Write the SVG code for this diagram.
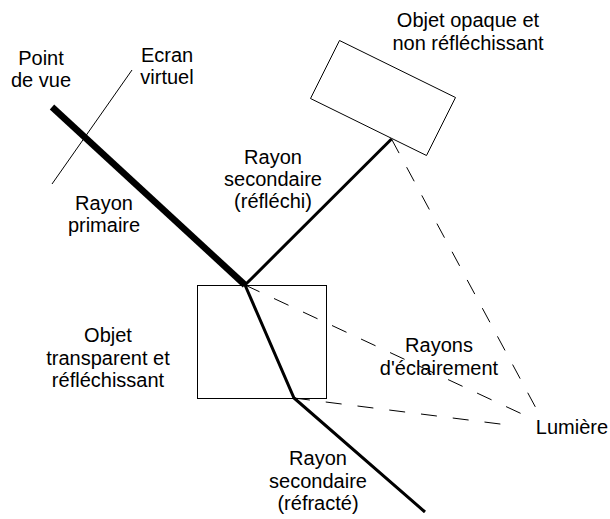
<svg xmlns="http://www.w3.org/2000/svg" width="610" height="519" viewBox="0 0 610 519">
<style>
text{font-family:"Liberation Sans",Arial,sans-serif;font-size:20px;fill:#000;text-anchor:middle}
.shape{fill:none;stroke:#000;stroke-width:1}
.dash{fill:none;stroke:#000;stroke-width:1;stroke-dasharray:16 16}
.ray{fill:none;stroke:#000;stroke-width:3;stroke-linejoin:miter}
</style>
<rect width="610" height="519" fill="#fff"/>
<g id="ecran-virtuel">
<line class="shape" x1="132" y1="70" x2="52" y2="184"/>
<text x="167" y="62">Ecran</text>
<text x="167" y="84">virtuel</text>
</g>
<g id="point-de-vue">
<text x="41" y="65">Point</text>
<text x="41" y="87">de vue</text>
</g>
<g id="objet-opaque">
<polygon class="shape" points="339.5,40.5 455.5,97.5 426.5,155.5 310.5,98.5"/>
<text x="468" y="27">Objet opaque et</text>
<text x="468" y="50">non réfléchissant</text>
</g>
<g id="objet-transparent">
<rect class="shape" x="197.5" y="285.5" width="129" height="113"/>
<text x="108" y="342">Objet</text>
<text x="108" y="365">transparent et</text>
<text x="108" y="387">réfléchissant</text>
</g>
<g id="lumiere">
<text x="572" y="434">Lumière</text>
</g>
<g id="connectors">
<line x1="52" y1="107" x2="245" y2="285" stroke="#000" stroke-width="6.5"/>
<polyline class="ray" points="245,285 391.5,139"/>
<polyline class="ray" points="245,285 294,398 425,512"/>
<line class="dash" x1="245" y1="285" x2="522" y2="414"/>
<line class="dash" x1="391.5" y1="139" x2="537" y2="410"/>
<line class="dash" x1="294" y1="398" x2="508" y2="425"/>
</g>
<g id="labels">
<text x="104" y="210">Rayon</text>
<text x="104" y="232">primaire</text>
<text x="273" y="164">Rayon</text>
<text x="273" y="186">secondaire</text>
<text x="273" y="208">(réfléchi)</text>
<text x="439" y="352">Rayons</text>
<text x="439" y="375">d'éclairement</text>
<text x="318" y="465">Rayon</text>
<text x="318" y="488">secondaire</text>
<text x="318" y="510">(réfracté)</text>
</g>
</svg>
